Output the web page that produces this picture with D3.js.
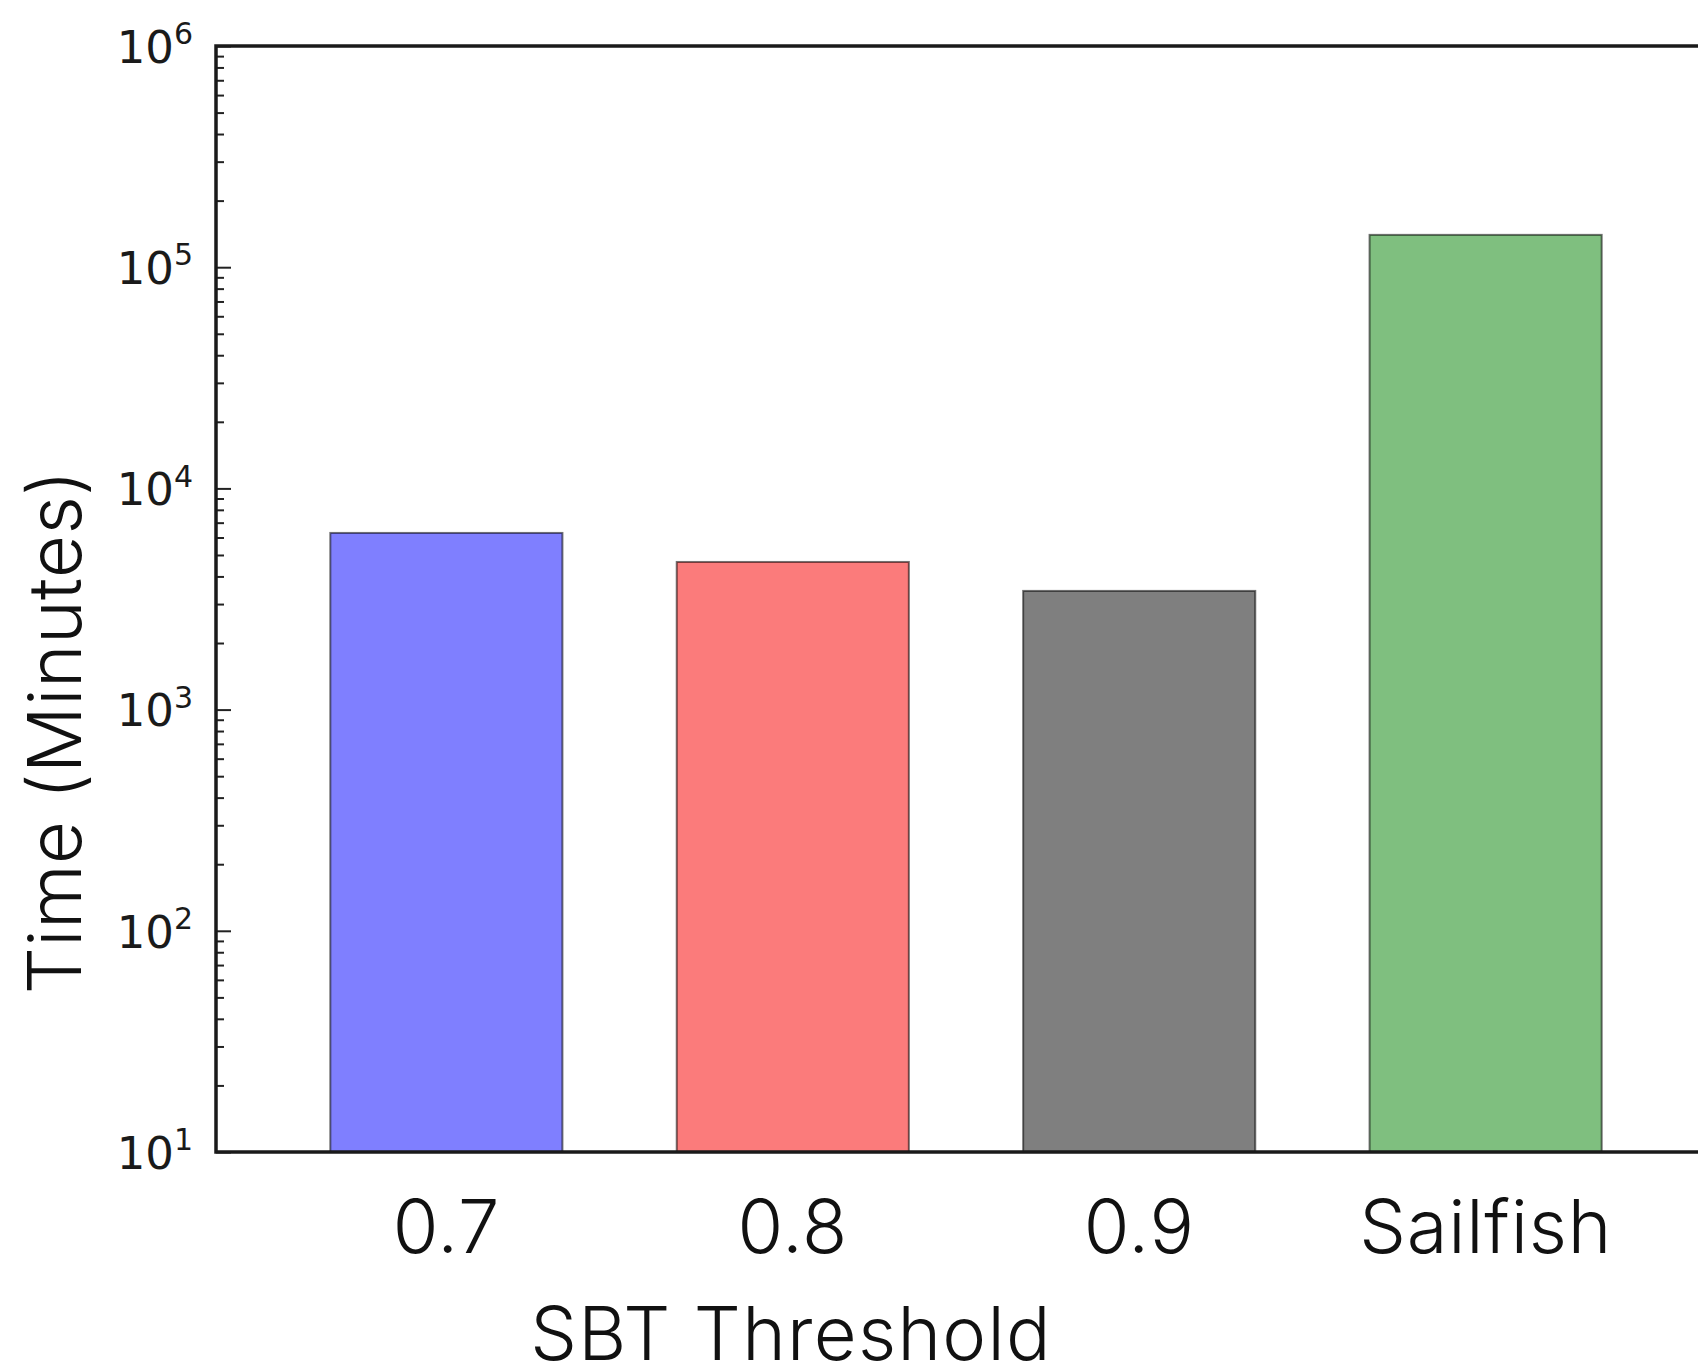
<!DOCTYPE html>
<html><head><meta charset="utf-8">
<script src="https://cdn.jsdelivr.net/npm/d3@7"></script>
<style>html,body{margin:0;padding:0;background:#fff;}svg{display:block;}</style>
</head><body>
<svg id="c" width="1698" height="1371"></svg>
<script>
const categories = ["0.7", "0.8", "0.9", "Sailfish"];
const timesMinutes = [6290, 4650, 3440, 140000];
const barColors = ["#7f7fff", "#fb7b7b", "#7f7f7f", "#7fbf7f"];
const yTickExponents = [1, 2, 3, 4, 5, 6];
const xAxisLabel = "SBT Threshold";
const yAxisLabel = "Time (Minutes)";

const svg = d3.select("#c");
const L = 216, T = 46, B = 1152, R = 1716;
const labelFont = "Inter";

const x = d3.scaleBand().domain(categories).range([L, R]).paddingInner(0.33).paddingOuter(0.33);
const y = d3.scaleLog().domain([10, 1e6]).range([B, T]);

// bars
svg.append("g").selectAll("rect").data(categories).join("rect")
  .attr("x", d => x(d)).attr("width", x.bandwidth())
  .attr("y", (d, i) => y(timesMinutes[i]))
  .attr("height", (d, i) => y(10) - y(timesMinutes[i]))
  .attr("fill", (d, i) => barColors[i])
  .attr("stroke", "rgba(0,0,0,0.55)").attr("stroke-width", 2);

// minor ticks
const minor = [];
for (let e = 1; e < 6; e++) for (let m = 2; m <= 9; m++) minor.push(m * Math.pow(10, e));
const minorAx = svg.append("g").attr("transform", `translate(${L},0)`)
  .call(d3.axisLeft(y).tickValues(minor).tickSize(-8).tickFormat(""));
minorAx.select(".domain").remove();
minorAx.selectAll("line").attr("stroke", "#222").attr("stroke-width", 2);

// major ticks
const majorAx = svg.append("g").attr("transform", `translate(${L},0)`)
  .call(d3.axisLeft(y).tickValues(yTickExponents.map(e => Math.pow(10, e))).tickSize(-15).tickPadding(24).tickFormat(""));
majorAx.select(".domain").remove();
majorAx.selectAll("line").attr("stroke", "#222").attr("stroke-width", 2);
majorAx.selectAll(".tick").each(function(d, i) {
  const t = d3.select(this).select("text")
    .attr("font-family", "DejaVu Sans").attr("font-size", 45).attr("fill", "#1a1a1a")
    .attr("text-anchor", "end").attr("dy", "0.36em").attr("x", -23);
  t.append("tspan").text("10");
  t.append("tspan").attr("dy", "-0.62em").attr("font-size", 30).text(String(yTickExponents[i]));
});

// spines
svg.append("path").attr("d", `M${R},${T}H${L}V${B}H${R}`)
  .attr("fill", "none").attr("stroke", "#1a1a1a").attr("stroke-width", 3.5);

// x tick labels
svg.append("g").selectAll("text").data(categories).join("text")
  .attr("x", d => x(d) + x.bandwidth() / 2).attr("y", 1253)
  .attr("text-anchor", "middle").attr("font-family", labelFont).attr("font-weight", 300)
  .attr("font-size", 74).attr("letter-spacing", 0.8).attr("fill", "#111").text(d => d);

// axis labels
svg.append("text").attr("x", 791).attr("y", 1360).attr("text-anchor", "middle")
  .attr("font-family", labelFont).attr("font-weight", 300).attr("font-size", 74).attr("letter-spacing", 1.3).attr("fill", "#111")
  .text(xAxisLabel);
svg.append("text").attr("transform", "translate(81,732) rotate(-90)").attr("text-anchor", "middle")
  .attr("font-family", labelFont).attr("font-weight", 300).attr("font-size", 74).attr("letter-spacing", 0.5).attr("fill", "#111")
  .text(yAxisLabel);
</script>
</body></html>
